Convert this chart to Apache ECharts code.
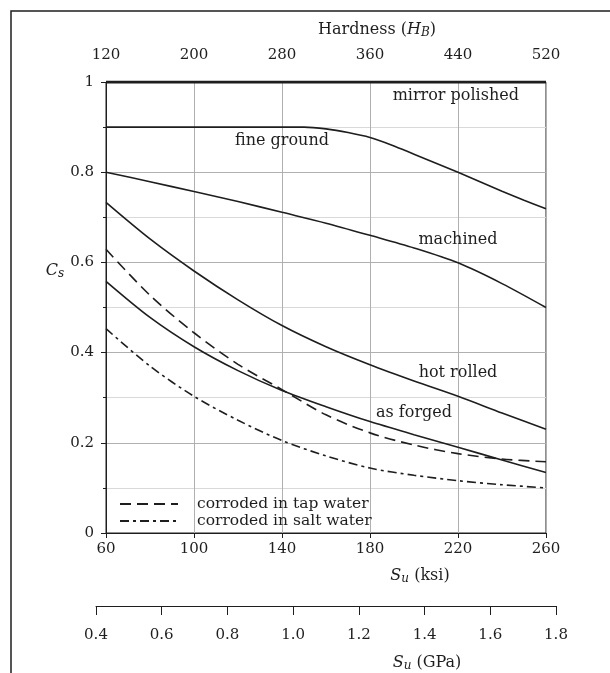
<!DOCTYPE html>
<html>
<head>
<meta charset="utf-8">
<script src="https://cdn.jsdelivr.net/npm/echarts@6/dist/echarts.min.js"></script>
<style>html,body{margin:0;padding:0;background:#fff}#c{width:610px;height:673px}</style>
</head>
<body>
<div id="c"></div>
<script>
// Data
var su = [60, 80, 100, 120, 140, 160, 180, 200, 220, 240, 260];
var suFine = [60, 100, 140, 150, 160, 170, 180, 190, 200, 210, 220, 230, 240, 250, 260];
var mirrorPolished = [1, 1, 1, 1, 1, 1, 1, 1, 1, 1, 1];
var fineGround = [0.9, 0.9, 0.9, 0.9, 0.896, 0.888, 0.877, 0.86, 0.84, 0.82, 0.80, 0.779, 0.758, 0.738, 0.719];
var machined = [0.8, 0.779, 0.757, 0.735, 0.711, 0.687, 0.66, 0.632, 0.599, 0.553, 0.5];
var hotRolled = [0.733, 0.652, 0.581, 0.517, 0.46, 0.413, 0.373, 0.337, 0.303, 0.266, 0.23];
var asForged = [0.558, 0.478, 0.413, 0.36, 0.316, 0.28, 0.247, 0.218, 0.19, 0.162, 0.134];
var tapWater = [0.629, 0.527, 0.444, 0.374, 0.318, 0.262, 0.222, 0.195, 0.176, 0.164, 0.158];
var saltWater = [0.453, 0.37, 0.303, 0.25, 0.205, 0.171, 0.144, 0.128, 0.116, 0.107, 0.1];
var curveLabels = ['mirror polished', 'fine ground', 'machined', 'hot rolled', 'as forged'];
var labelSu = [219, 140, 220, 220, 200];
var labelCs = [0.97, 0.87, 0.649, 0.356, 0.266];

function pairs(xs, ys) { return xs.map(function (x, i) { return [x, ys[i]]; }); }

var FONT = 'DejaVu Serif';
var INK = '#1e1e1e';
var txt = { fontFamily: FONT, fontSize: 15, color: INK };

function curve(name, xs, ys, width, type) {
  return {
    name: name, type: 'line', xAxisIndex: 0, yAxisIndex: 0,
    data: pairs(xs, ys), showSymbol: false, symbol: 'none', smooth: 0.3,
    lineStyle: { color: INK, width: width, type: type },
    itemStyle: { color: INK }, silent: true, animation: false, z: 3
  };
}
function nameStyle(padding) {
  return {
    fontFamily: FONT, fontSize: 16, color: INK, padding: padding,
    rich: { i: { fontFamily: FONT, fontSize: 16, fontStyle: 'italic', color: INK },
            s: { fontFamily: FONT, fontSize: 12, fontStyle: 'italic', color: INK, padding: [6, 0, 0, 0] } }
  };
}

var chart = echarts.init(document.getElementById('c'), null, { renderer: 'canvas' });
chart.setOption({
  animation: false,
  backgroundColor: '#fff',
  grid: [
    { left: 106, right: 64, top: 82, bottom: 140, show: true, borderColor: INK, borderWidth: 1 },
    { left: 96, right: 54, top: 605, height: 1 }
  ],
  xAxis: [
    {
      type: 'value', gridIndex: 0, position: 'bottom', min: 60, max: 260, interval: 40,
      axisLine: { show: true, lineStyle: { color: INK, width: 1 } },
      axisTick: { show: true, length: 5, lineStyle: { color: INK } },
      axisLabel: Object.assign({ margin: 9 }, txt),
      splitLine: { show: true, lineStyle: { color: '#b0b0b0', width: 1 } },
      name: '{i|S}{s|u} (ksi)', nameLocation: 'middle', nameGap: 34,
      nameTextStyle: nameStyle([0, 0, 0, 188])
    },
    {
      type: 'value', gridIndex: 0, position: 'top', min: 120, max: 520, interval: 80,
      axisLine: { show: false }, axisTick: { show: false },
      axisLabel: Object.assign({ margin: 19 }, txt),
      splitLine: { show: false },
      name: 'Hardness ({i|H}{s|B})', nameLocation: 'middle', nameGap: 43,
      nameTextStyle: nameStyle([0, 0, 0, 102])
    },
    {
      type: 'value', gridIndex: 1, position: 'bottom', min: 0.4, max: 1.8, interval: 0.2,
      axisLine: { show: true, lineStyle: { color: INK, width: 1 } },
      axisTick: { show: true, length: 9, lineStyle: { color: INK } },
      axisLabel: Object.assign({ margin: 22, formatter: function (v) { return v.toFixed(1); } }, txt),
      splitLine: { show: false },
      name: '{i|S}{s|u} (GPa)', nameLocation: 'middle', nameGap: 48,
      nameTextStyle: nameStyle([0, 0, 0, 202])
    }
  ],
  yAxis: [
    {
      type: 'value', gridIndex: 0, min: 0, max: 1, interval: 0.2,
      axisLine: { show: true, lineStyle: { color: INK, width: 1 } },
      axisTick: { show: true, length: 5, lineStyle: { color: INK } },
      minorTick: { show: true, splitNumber: 2, length: 3, lineStyle: { color: INK } },
      axisLabel: Object.assign({ margin: 12 }, txt),
      splitLine: { show: true, lineStyle: { color: '#b0b0b0', width: 1 } },
      minorSplitLine: { show: true, lineStyle: { color: '#d9d9d9', width: 1 } },
      name: '{i|C}{s|s}', nameLocation: 'middle', nameRotate: 0, nameGap: 40,
      nameTextStyle: nameStyle([0, 0, 74, 0])
    },
    { type: 'value', gridIndex: 1, show: false, min: 0, max: 1 }
  ],
  legend: {
    data: ['corroded in tap water', 'corroded in salt water'],
    orient: 'vertical', left: 114, top: 491, itemWidth: 58, itemHeight: 10, itemGap: 1,
    itemStyle: { opacity: 0 },
    textStyle: { fontFamily: FONT, fontSize: 15.5, color: INK, padding: [0, 0, 0, 14] },
    selectedMode: false
  },
  series: [
    curve('mirror polished', su, mirrorPolished, 3, 'solid'),
    curve('fine ground', suFine, fineGround, 1.6, 'solid'),
    curve('machined', su, machined, 1.6, 'solid'),
    curve('hot rolled', su, hotRolled, 1.6, 'solid'),
    curve('as forged', su, asForged, 1.6, 'solid'),
    curve('corroded in tap water', su, tapWater, 1.6, [11, 6]),
    curve('corroded in salt water', su, saltWater, 1.6, [9, 4, 3, 4]),
    {
      name: 'labels', type: 'scatter', xAxisIndex: 0, yAxisIndex: 0, silent: true,
      symbol: 'circle', symbolSize: 2, itemStyle: { color: 'rgba(0,0,0,0)' },
      data: curveLabels.map(function (t, i) { return [labelSu[i], labelCs[i], t]; }),
      label: { show: true, position: 'inside', formatter: function (p) { return p.data[2]; },
               fontFamily: FONT, fontSize: 16, color: INK, opacity: 1,
               textBorderWidth: 0, textBorderColor: 'transparent' },
      labelLayout: { hideOverlap: false },
      z: 5
    }
  ],
  graphic: [
    { type: 'polyline', shape: { points: [[11, 673], [11, 11], [612, 11]] },
      style: { stroke: INK, lineWidth: 1.5, fill: null }, silent: true }
  ]
});
</script>
</body>
</html>
